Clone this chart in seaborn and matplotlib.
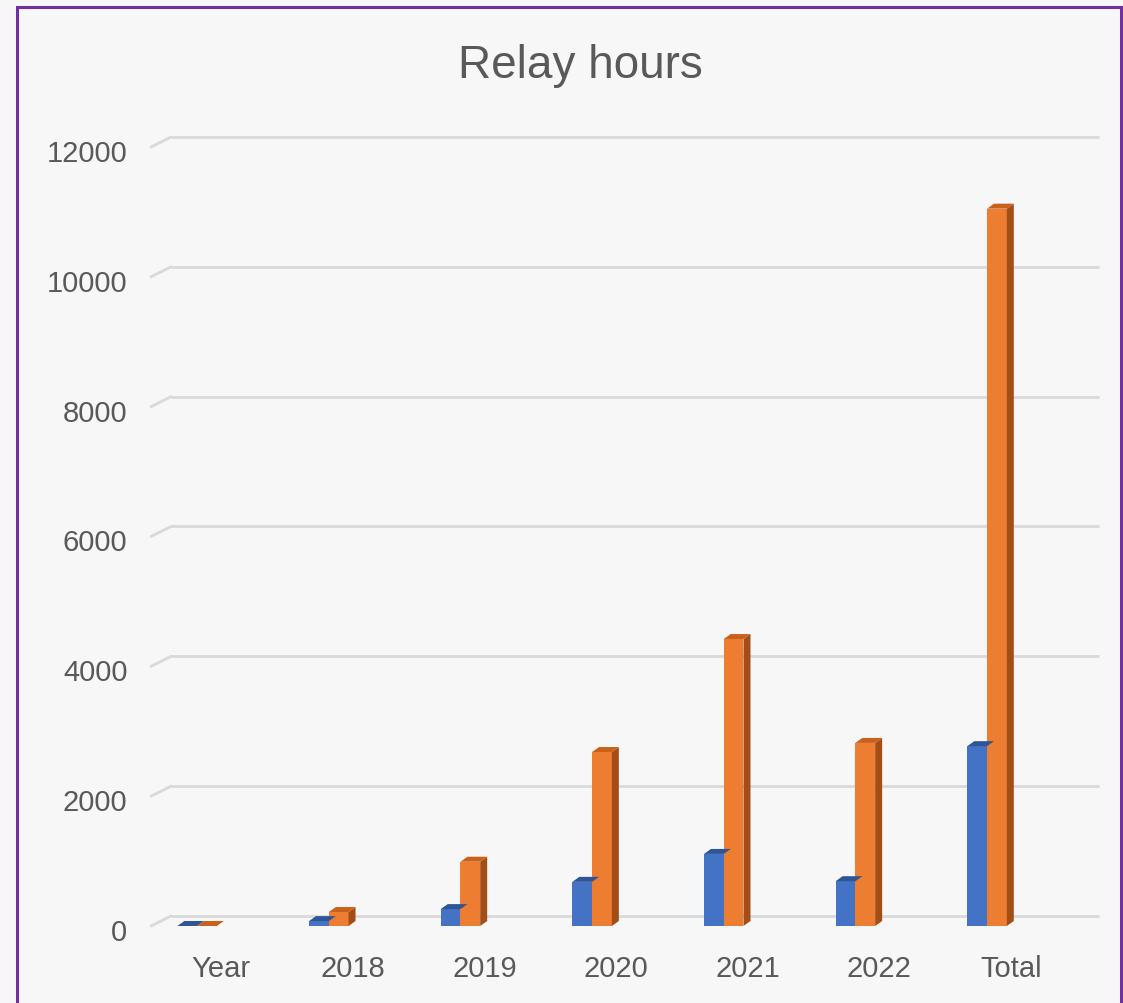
import matplotlib.pyplot as plt
import matplotlib.patches as mpatches
import matplotlib.transforms as mtransforms
import pandas as pd
import seaborn as sns

# data
categories = ["Year", "2018", "2019", "2020", "2021", "2022", "Total"]
series_a = [0, 75, 260, 680, 1110, 690, 2770]
series_b = [0, 215, 990, 2680, 4420, 2820, 11050]
series_names = ["Series1", "Series2"]
colors = ["#4472C4", "#ED7D31"]
top_colors = ["#2F5597", "#C9611C"]
side_colors = ["#2A4C86", "#A34E17"]
y_ticks = [0, 2000, 4000, 6000, 8000, 10000, 12000]

df = pd.DataFrame({
    "cat": categories * 2,
    "series": [series_names[0]] * len(categories) + [series_names[1]] * len(categories),
    "value": series_a + series_b,
})

sns.set_style("white")
plt.rcParams["font.family"] = ["Liberation Sans", "DejaVu Sans"]
text_col = "#595959"

fig = plt.figure(figsize=(11.23, 10.04), dpi=100, facecolor="#F7F7F7")
ax = fig.add_axes([0.1345, 0.0767, 0.8441, 0.7759])
ax.set_facecolor("none")

sns.barplot(data=df, x="cat", y="value", hue="series", order=categories,
            hue_order=series_names, palette=colors, width=0.3, saturation=1,
            ax=ax, legend=False, zorder=3)
ax.set_xlim(-0.35, 6.85)
ax.set_ylim(0, 12000)

# pixel -> data helpers
def off(x, y, dxp, dyp):
    px, py = ax.transData.transform((x, y))
    return ax.transData.inverted().transform((px + dxp, py + dyp))

DX, DY = 7, 5
for i, cont in enumerate(ax.containers):
    for bar in cont:
        x0 = bar.get_x()
        x1 = x0 + bar.get_width()
        h = bar.get_height()
        bar.set_edgecolor("none")
        top = [(x0, h), (x1, h), tuple(off(x1, h, DX, DY)), tuple(off(x0, h, DX, DY))]
        ax.add_patch(mpatches.Polygon(top, closed=True, facecolor=top_colors[i],
                                      edgecolor="none", zorder=3 + i, clip_on=False))
        if i == 1:
            side = [(x1, 0), tuple(off(x1, 0, DX, DY)), tuple(off(x1, h, DX, DY)), (x1, h)]
            ax.add_patch(mpatches.Polygon(side, closed=True, facecolor=side_colors[i],
                                          edgecolor="none", zorder=3, clip_on=False))

# back-wall gridlines with a short perspective connector at the left
xl, xr = ax.get_xlim()
for v in y_ticks:
    bx0, by = off(xl, v, 20, 10)
    bx1, _ = off(xr, v, 0, 10)
    ax.plot([bx0, bx1], [by, by], color="#D9D9D9", lw=2, zorder=1, clip_on=False,
            solid_capstyle="butt")
    ax.plot([xl, bx0], [v, by], color="#D9D9D9", lw=2, zorder=1, clip_on=False)

for s in ax.spines.values():
    s.set_visible(False)
ax.set_yticks(y_ticks)
ax.set_yticklabels([str(t) for t in y_ticks])
ax.tick_params(axis="both", length=0, labelsize=21, labelcolor=text_col)
ax.tick_params(axis="y", pad=17)
ax.tick_params(axis="x", pad=20)
ax.set_xlabel("")
ax.set_ylabel("")

# labels sit a bit right of the bar clusters, as in the 3D view
shift = mtransforms.ScaledTranslation(24 / 100, 0, fig.dpi_scale_trans)
for lab in ax.get_xticklabels():
    lab.set_transform(lab.get_transform() + shift)
yshift = mtransforms.ScaledTranslation(0, -3 / 100, fig.dpi_scale_trans)
for lab in ax.get_yticklabels():
    lab.set_transform(lab.get_transform() + yshift)

fig.text(0.5165, 0.934, "Relay hours", ha="center", va="center",
         fontsize=33, color=text_col)

fig.patches.append(mpatches.Rectangle((17 / 1123, -0.05), (1121 - 17) / 1123, 1.05 - 8 / 1004,
                                      transform=fig.transFigure, fill=False,
                                      edgecolor="#7030A0", lw=2.2))

fig.savefig("out.png", dpi=100, facecolor=fig.get_facecolor())
